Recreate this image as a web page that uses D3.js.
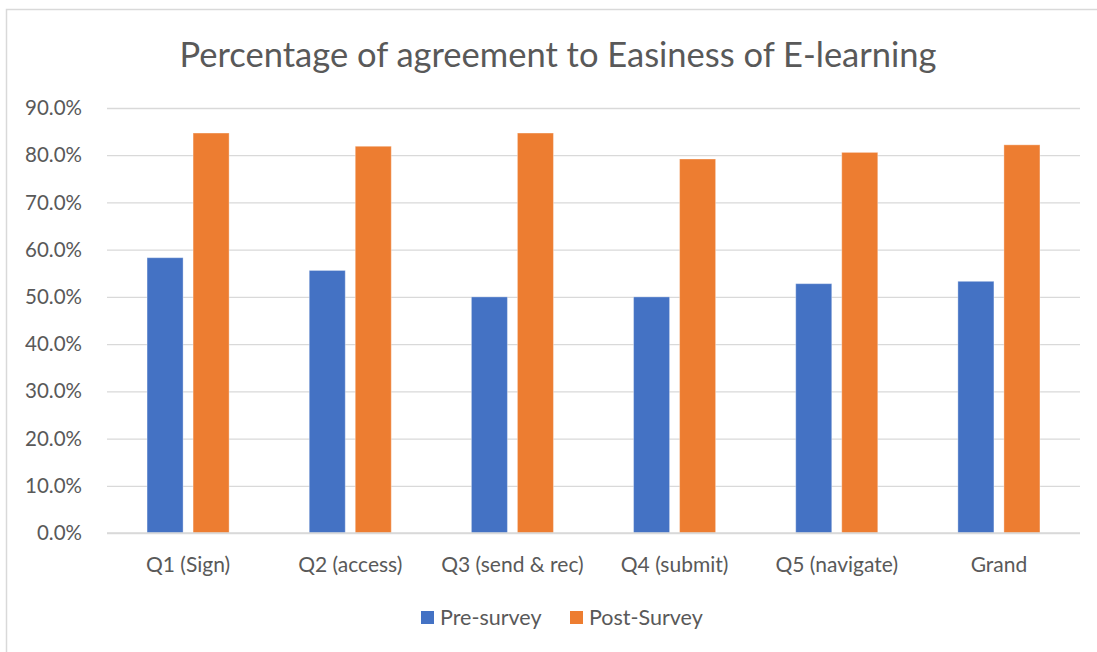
<!DOCTYPE html>
<html>
<head>
<meta charset="utf-8">
<script src="https://cdn.jsdelivr.net/npm/d3@7"></script>
<style>
  html, body { margin: 0; padding: 0; background: #fff; }
  svg { display: block; font-family: Lato, "Open Sans", sans-serif; }
</style>
</head>
<body>
<svg id="chart" width="1097" height="652"></svg>
<script>
// Survey results: share of respondents agreeing, per question
const categories = ["Q1 (Sign)", "Q2 (access)", "Q3 (send & rec)", "Q4 (submit)", "Q5 (navigate)", "Grand"];
const seriesNames = ["Pre-survey", "Post-Survey"];
const preSurvey = [0.583, 0.556, 0.500, 0.500, 0.528, 0.533];
const postSurvey = [0.847, 0.819, 0.847, 0.792, 0.806, 0.822];
const yTicks = [0, 0.1, 0.2, 0.3, 0.4, 0.5, 0.6, 0.7, 0.8, 0.9];
const colors = ["#4472C4", "#ED7D31"];
const title = "Percentage of agreement to Easiness of E-learning";

const seriesValues = [preSurvey, postSurvey];
const rows = categories.map((c, i) => ({
  category: c,
  values: seriesNames.map((s, k) => ({ series: s, value: seriesValues[k][i], k }))
}));

const svg = d3.select("#chart");
const textColor = "#595959";
const gridColor = "#D9D9D9";

// Chart frame
svg.append("rect")
  .attr("x", 6.5).attr("y", 9.5)
  .attr("width", 1100).attr("height", 660)
  .attr("fill", "#fff")
  .attr("stroke", gridColor).attr("stroke-width", 1.5);

const plot = { left: 107, right: 1080, top: 108, bottom: 533 };

const x0 = d3.scaleBand()
  .domain(categories)
  .range([plot.left, plot.right])
  .paddingInner(0.494)
  .paddingOuter(0.247);

const x1 = d3.scaleBand()
  .domain(seriesNames)
  .range([0, x0.bandwidth()])
  .paddingInner(0.217)
  .paddingOuter(0);

const y = d3.scaleLinear()
  .domain([0, 0.9])
  .range([plot.bottom, plot.top]);

// Horizontal gridlines and value labels
const yAxis = d3.axisLeft(y)
  .tickValues(yTicks)
  .tickFormat(d3.format(".1%"))
  .tickSize(-(plot.right - plot.left))
  .tickPadding(25);

const gy = svg.append("g")
  .attr("transform", `translate(${plot.left},0)`)
  .call(yAxis);
gy.select(".domain").remove();
gy.selectAll(".tick line")
  .attr("stroke", gridColor)
  .attr("stroke-width", 1.3);
gy.selectAll(".tick text")
  .attr("fill", textColor)
  .style("font-size", "20.5px")
  .style("font-family", "Lato, sans-serif");

// Bars
const groups = svg.append("g")
  .selectAll("g")
  .data(rows)
  .join("g")
  .attr("transform", d => `translate(${x0(d.category)},0)`);

groups.selectAll("rect")
  .data(d => d.values)
  .join("rect")
  .attr("x", d => x1(d.series))
  .attr("y", d => y(d.value))
  .attr("width", x1.bandwidth())
  .attr("height", d => y(0) - y(d.value))
  .attr("fill", d => colors[d.k])
  .attr("stroke", "#fff")
  .attr("stroke-opacity", 0.35)
  .attr("stroke-width", 1);

// Category axis
const xAxis = d3.axisBottom(x0).tickSize(0).tickPadding(24);
const gx = svg.append("g")
  .attr("transform", `translate(0,${plot.bottom})`)
  .call(xAxis);
gx.select(".domain")
  .attr("stroke", gridColor)
  .attr("stroke-width", 1.5)
  .attr("d", `M${plot.left},0H${plot.right}`);
gx.selectAll(".tick text")
  .attr("fill", textColor)
  .style("font-size", "21px")
  .style("font-family", "Lato, sans-serif");

// Title
svg.append("text")
  .attr("x", 558)
  .attr("y", 67)
  .attr("text-anchor", "middle")
  .attr("fill", textColor)
  .style("font-size", "34.5px")
  .text(title);

// Legend
const legendItems = [
  { name: seriesNames[0], color: colors[0], x: 421 },
  { name: seriesNames[1], color: colors[1], x: 570 }
];
const legend = svg.append("g")
  .selectAll("g")
  .data(legendItems)
  .join("g")
  .attr("transform", d => `translate(${d.x},611)`);
legend.append("rect")
  .attr("width", 13).attr("height", 13)
  .attr("fill", d => d.color);
legend.append("text")
  .attr("x", 19)
  .attr("y", 14)
  .attr("fill", textColor)
  .style("font-size", "21.5px")
  .text(d => d.name);
</script>
</body>
</html>
